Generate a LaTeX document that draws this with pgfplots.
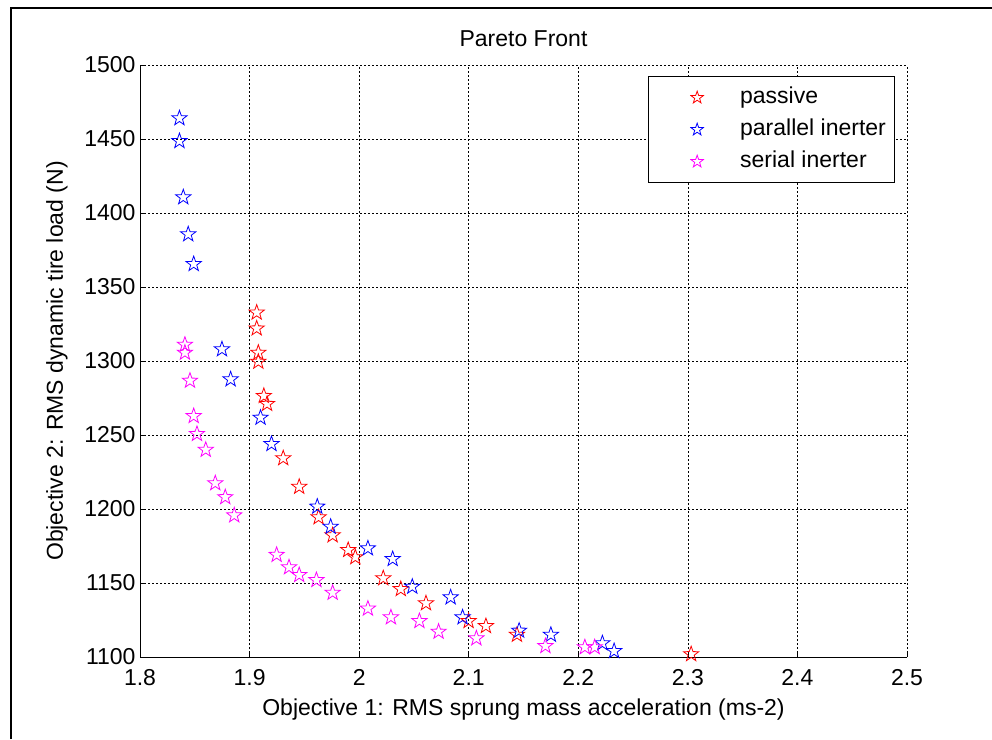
\documentclass[border=0pt]{standalone}
\usepackage{pgfplots}
\pgfplotsset{compat=1.18}
\usepackage{fontspec}
\setmainfont{Liberation Sans}

% outlined five-pointed star marker
\pgfdeclareplotmark{pentagram}{%
  \pgfpathmoveto{\pgfpointpolar{90}{\pgfplotmarksize}}%
  \pgfpathlineto{\pgfpointpolar{126}{0.40\pgfplotmarksize}}%
  \pgfpathlineto{\pgfpointpolar{162}{\pgfplotmarksize}}%
  \pgfpathlineto{\pgfpointpolar{198}{0.40\pgfplotmarksize}}%
  \pgfpathlineto{\pgfpointpolar{234}{\pgfplotmarksize}}%
  \pgfpathlineto{\pgfpointpolar{270}{0.40\pgfplotmarksize}}%
  \pgfpathlineto{\pgfpointpolar{306}{\pgfplotmarksize}}%
  \pgfpathlineto{\pgfpointpolar{342}{0.40\pgfplotmarksize}}%
  \pgfpathlineto{\pgfpointpolar{18}{\pgfplotmarksize}}%
  \pgfpathlineto{\pgfpointpolar{54}{0.40\pgfplotmarksize}}%
  \pgfpathclose
  \pgfusepathqstroke
}

\definecolor{mred}{RGB}{255,0,0}
\definecolor{mblue}{RGB}{0,0,255}
\definecolor{mmag}{RGB}{255,0,255}

\begin{document}
\begin{tikzpicture}[x=1pt,y=1pt]
\useasboundingbox (0,0) rectangle (992,739);
\draw[line width=1.2pt] (11,0) -- (11,731) -- (992,731);
\begin{axis}[
  at={(140pt,82pt)}, anchor=south west,
  scale only axis, width=767pt, height=592pt,
  xmin=1.8, xmax=2.5, ymin=1100, ymax=1500,
  xtick={1.8,1.9,...,2.5}, ytick={1100,1150,...,1500},
  /pgf/number format/assume math mode=true,
  /pgf/number format/.cd, fixed, use period, 1000 sep={}, /pgfplots/.cd,
  axis x line*=bottom, axis y line*=left,
  axis line style={line width=0.8pt},
  tick style={black, line width=0.6pt},
  major tick length=5pt, tick align=inside,
  grid=major,
  major grid style={black, line width=0.6pt, dash pattern=on 2pt off 2pt},
  every tick label/.append style={font=\fontsize{23}{27}\selectfont},
  xticklabel style={/pgf/number format/precision=1, anchor=base, yshift=-28pt},
  yticklabel style={anchor=east, xshift=-1pt},
  title style={font=\fontsize{23}{27}\selectfont,
    at={(axis description cs:0.5,1.0203)}, anchor=base},
  title={Pareto Front},
  xlabel style={font=\fontsize{23}{27}\selectfont,
    at={(axis description cs:0.5,-0.098)}, anchor=base},
  ylabel style={font=\fontsize{23}{27}\selectfont,
    at={(axis description cs:-0.1004,0.5)}, anchor=base},
  xlabel={Objective 1: RMS sprung mass acceleration (ms-2)},
  ylabel={Objective 2: RMS dynamic tire load (N)},
  clip=false,
  legend cell align=left,
  legend style={at={(0.662,0.981)}, anchor=north west, draw=black,
    line width=0.8pt, font=\fontsize{23}{27}\selectfont,
    inner xsep=5pt, inner ysep=7pt, row sep=4pt,
    nodes={inner sep=3pt, text height=17pt, text depth=5pt}},
  legend image code/.code={%
    \path[draw=none, fill=none] (0pt,-1pt) rectangle (84pt,1pt);
    \draw[#1, mark size=6.5pt] plot coordinates {(44pt,0pt)};},
]
\addplot[only marks, mark=pentagram, mark size=8pt, mred, line width=0.8pt]
coordinates {
(1.9065,1332.7) (1.9065,1322) (1.908,1305.6) (1.908,1299.5) (1.913,1276.4)
(1.916,1271) (1.9307,1234.3) (1.9453,1215) (1.963,1194.4) (1.9758,1182.2)
(1.990,1172.3) (1.9965,1167.4) (2.022,1153.2) (2.038,1145.9) (2.061,1136.3)
(2.0999,1124.3) (2.1157,1120.9) (2.144,1115) (2.303,1101.9)
};
\addlegendentry{passive}
\addplot[only marks, mark=pentagram, mark size=8pt, mblue, line width=0.8pt]
coordinates {
(1.836,1464) (1.836,1448.6) (1.8395,1410.6) (1.844,1385.6) (1.849,1365.5)
(1.8748,1307.9) (1.8827,1287.6) (1.910,1261.7) (1.920,1243.9) (1.9618,1201.6)
(1.974,1188) (2.008,1173.4) (2.0306,1166.2) (2.0485,1147.5) (2.0835,1140.3)
(2.0944,1126.8) (2.146,1117.8) (2.175,1115) (2.222,1109.3) (2.2327,1104)
};
\addlegendentry{parallel inerter}
\addplot[only marks, mark=pentagram, mark size=8pt, mmag, line width=0.8pt]
coordinates {
(1.841,1311) (1.841,1305.6) (1.8456,1286.7) (1.849,1262.8) (1.852,1250.7)
(1.860,1240) (1.8687,1217.4) (1.8778,1208) (1.886,1195.7) (1.9247,1169)
(1.936,1160.6) (1.9453,1155.4) (1.961,1152) (1.9758,1143.4) (2.008,1132.7)
(2.029,1126.8) (2.055,1124.3) (2.0725,1117.1) (2.107,1112.6) (2.170,1107.4)
(2.206,1106.6) (2.215,1106.6)
};
\addlegendentry{serial inerter}
\end{axis}
\end{tikzpicture}
\end{document}
